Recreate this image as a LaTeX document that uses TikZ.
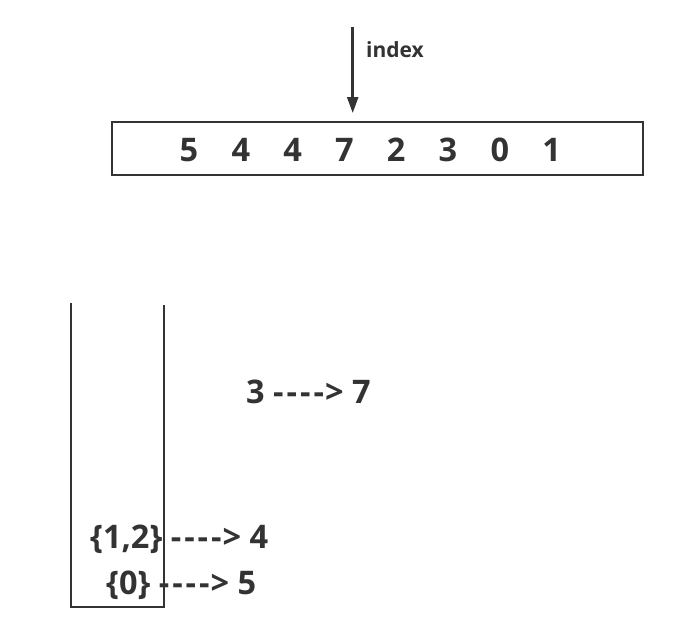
\documentclass[tikz,border=0pt]{standalone}
\usepackage{fontspec}
\setmainfont{Open Sans}[Ligatures=TeXOff]
\usetikzlibrary{arrows.meta}
\definecolor{ink}{HTML}{333333}
\newcommand{\maps}{-\kern3pt-\kern3pt-\kern3pt-\kern1pt>}
\tikzset{
  num/.style={text=ink, font=\bfseries\fontsize{32.5}{36}\selectfont, inner sep=0pt},
  small/.style={text=ink, font=\bfseries\fontsize{21}{24}\selectfont, inner sep=0pt},
  ptr/.style={draw=ink, line width=2.5pt, -{Triangle[width=11pt,length=16pt]}},
  stack/.style={draw=ink, line width=2pt}
}
\begin{document}
\begin{tikzpicture}[x=1pt,y=-1pt]
                \useasboundingbox (0,0) rectangle (692,627);

                \node[draw=ink, line width=2.5pt, minimum width=531pt, minimum height=53pt, inner sep=0pt] (arr) at (377.5,148.5) {};
                \foreach \v [count=\i] in {5,4,4,7,2,3,0,1}
                    \node[num, anchor=base] (d\i) at ({189+51.8*(\i-1)},161.7) {\v};

                \coordinate (top) at (352.7,27);
                \coordinate (tip) at (352.7,113);
                \draw[ptr] (top) -- (tip);
                \node[small, anchor=base west] (idx) at (366,57) {index};

                \coordinate (s1) at (70.7,303);
                \coordinate (s2) at (70.7,607);
                \coordinate (s3) at (164,607);
                \coordinate (s4) at (164,305);
                \draw[stack] (s1) -- (s2) -- (s3) -- (s4);

                \node[num, anchor=base west] (m3) at (246,403.7) {3 \maps{} 7};
                \node[num, anchor=base west] (m12) at (90,548.7) {\{1,2\} \maps{} 4};
                \node[num, anchor=base west] (m0) at (106,594.7) {\{0\} \maps{} 5};
            \end{tikzpicture}
\end{document}
